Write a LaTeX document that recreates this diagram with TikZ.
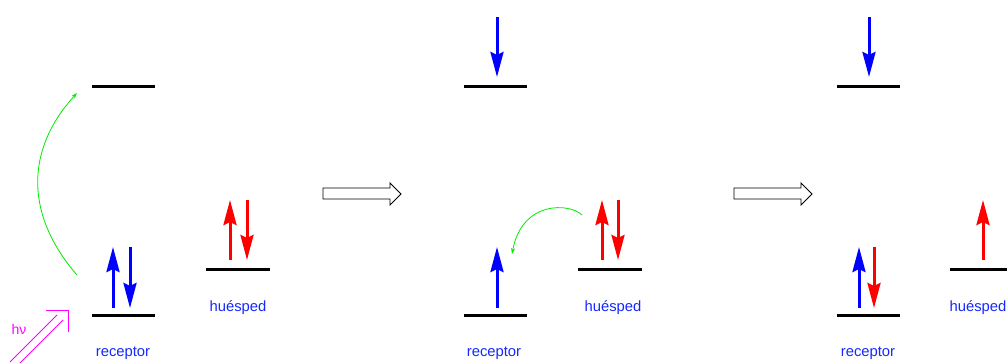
\documentclass[tikz,border=0pt]{standalone}
\usepackage{fontspec}
\setmainfont{Liberation Sans}
\usetikzlibrary{arrows.meta}
\definecolor{mag}{RGB}{255,0,255}
\definecolor{grn}{RGB}{0,235,0}
\definecolor{labblue}{RGB}{20,40,255}
\tikzset{
  level/.style={line width=3pt,black},
  spin/.style={line width=3pt,-{Stealth[length=25pt,width=13pt,inset=3pt]}},
  transfer/.style={grn,line width=0.8pt,-{Stealth[length=6pt,width=4pt]}},
  bigarrow/.style={draw=black,line width=0.8pt,fill=white},
  lab/.style={text=labblue,font=\fontsize{14.8}{16}\selectfont,inner sep=0pt}
}
\begin{document}
\begin{tikzpicture}[x=1pt,y=-1pt]
\useasboundingbox (0,0) rectangle (1007,363);
% ---- panel 1
\draw[level] (92,87) coordinate (p1u) -- (155,87);
\draw[level] (92,316) coordinate (p1r) -- (155,316);
\draw[level] (206,270) coordinate (p1g) -- (270,270);
\draw[spin,blue] (113,308) -- (113,247);
\draw[spin,blue] (130,247) -- (130,308);
\draw[spin,red] (230,260) -- (230,200);
\draw[spin,red] (247,200) -- (247,260);
\node[lab] (p1rl) at (123,353) {receptor};
\node[lab] (p1gl) at (238,308) {huésped};
\coordinate (a1s) at (77,275);
\coordinate (a1e) at (77,93);
\draw[transfer] (a1s) .. controls (25,215) and (25,150) .. (a1e);
% h nu
\draw[mag,line width=0.8pt] (10,362) -- (57,315);
\draw[mag,line width=0.8pt] (20,363) -- (63,320);
\draw[mag,line width=0.8pt] (46,310) -- (68,310) -- (68,332);
\node[text=mag,font=\fontsize{14}{16}\selectfont,inner sep=0pt] (hv) at (19,329) {hν};
% big arrows
\draw[bigarrow] (323,188) -- (390,188) -- (390,183) -- (401,194) -- (390,205) -- (390,199) -- (323,199) -- cycle;
\draw[bigarrow] (734,188) -- (801,188) -- (801,183) -- (812,194) -- (801,205) -- (801,199) -- (734,199) -- cycle;
% ---- panel 2
\draw[level] (464,87) coordinate (p2u) -- (527,87);
\draw[level] (464,316) coordinate (p2r) -- (527,316);
\draw[level] (578,270) coordinate (p2g) -- (642,270);
\draw[spin,blue] (497,17) -- (497,77);
\draw[spin,blue] (497,308) -- (497,247);
\draw[spin,red] (602,260) -- (602,200);
\draw[spin,red] (618,200) -- (618,260);
\node[lab] (p2rl) at (494,353) {receptor};
\node[lab] (p2gl) at (613,308) {huésped};
\coordinate (a2s) at (582,215);
\coordinate (a2e) at (512,254);
\draw[transfer] (a2s) .. controls (570,203) and (522,200) .. (a2e);
% ---- panel 3
\draw[level] (837,87) coordinate (p3u) -- (900,87);
\draw[level] (837,316) coordinate (p3r) -- (900,316);
\draw[level] (950,270) coordinate (p3g) -- (1010,270);
\draw[spin,blue] (869,17) -- (869,77);
\draw[spin,blue] (859,308) -- (859,247);
\draw[spin,red] (874,247) -- (874,308);
\draw[spin,red] (983,260) -- (983,200);
\node[lab] (p3rl) at (868,353) {receptor};
\node[lab] (p3gl) at (978,308) {huésped};
\end{tikzpicture}
\end{document}
